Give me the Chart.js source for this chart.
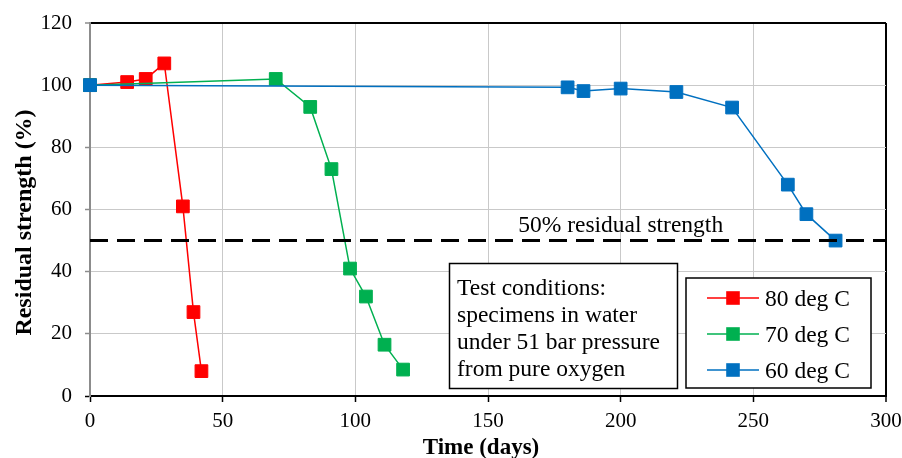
<!DOCTYPE html>
<html>
<head>
<meta charset="utf-8">
<script src="https://cdn.jsdelivr.net/npm/chart.js@4.4.1/dist/chart.umd.min.js"></script>
<style>
  html, body { margin: 0; padding: 0; background: #fff; }
  #chart { display: block; }
</style>
</head>
<body>
<canvas id="chart" width="902" height="458"></canvas>
<script>
const seriesLabels = ['80 deg C', '70 deg C', '60 deg C'];
const seriesColors = ['#ff0000', '#00b050', '#0070c0'];

const days80 = [0, 14, 21, 28, 35, 39, 42];
const strength80 = [100, 101, 102, 107, 61, 27, 8];

const days70 = [0, 70, 83, 91, 98, 104, 111, 118];
const strength70 = [100, 102, 93, 73, 41, 32, 16.5, 8.5];

const days60 = [0, 180, 186, 200, 221, 242, 263, 270, 281];
const strength60 = [100, 99.3, 98.1, 98.9, 97.8, 92.8, 68, 58.5, 50];

const thresholdDays = [0, 300];
const thresholdValue = 50;
const thresholdLabel = '50% residual strength';

const noteLines = ['Test conditions:', 'specimens in water', 'under 51 bar pressure', 'from pure oxygen'];

const xTitle = 'Time (days)';
const yTitle = 'Residual strength (%)';

const FONT = '"Liberation Serif", "Times New Roman", serif';
const GRID = '#c9c9c9';

Chart.defaults.font.family = FONT;

function toPoints(xs, ys) {
  return xs.map((x, i) => ({ x, y: ys[i] }));
}

function seriesDataset(i, xs, ys, order) {
  return {
    label: seriesLabels[i],
    data: toPoints(xs, ys),
    borderColor: seriesColors[i],
    backgroundColor: seriesColors[i],
    borderWidth: 1.5,
    pointStyle: 'rect',
    pointRadius: 9,
    pointBorderWidth: 1,
    pointBorderColor: seriesColors[i],
    pointBackgroundColor: seriesColors[i],
    tension: 0,
    clip: false,
    order,
  };
}

const datasets = [
  seriesDataset(0, days80, strength80, 3),
  seriesDataset(1, days70, strength70, 2),
  seriesDataset(2, days60, strength60, 1),
  {
    label: thresholdLabel,
    data: thresholdDays.map((x) => ({ x, y: thresholdValue })),
    borderColor: '#000',
    borderWidth: 3,
    borderDash: [18, 9],
    pointRadius: 0,
    order: 0,
  },
];

const annotations = {
  id: 'annotations',
  afterDraw(chart) {
    const { ctx, scales: { x, y } } = chart;
    ctx.save();
    ctx.fillStyle = '#000';

    // threshold label
    ctx.font = `23.5px ${FONT}`;
    ctx.textAlign = 'center';
    ctx.textBaseline = 'alphabetic';
    ctx.fillText(thresholdLabel, x.getPixelForValue(200), y.getPixelForValue(thresholdValue) - 9);

    // test conditions box
    ctx.fillStyle = '#fff';
    ctx.fillRect(449.5, 263.5, 228, 125);
    ctx.strokeStyle = '#000';
    ctx.lineWidth = 1.5;
    ctx.strokeRect(449.5, 263.5, 228, 125);
    ctx.fillStyle = '#000';
    ctx.textAlign = 'left';
    noteLines.forEach((line, i) => {
      ctx.fillText(line, 457, 295 + i * 27);
    });

    // legend box
    ctx.fillStyle = '#fff';
    ctx.fillRect(686, 278, 185, 110);
    ctx.strokeRect(686, 278, 185, 110);
    chart.data.datasets.slice(0, 3).forEach((ds, i) => {
      const cy = 298 + i * 36;
      ctx.strokeStyle = ds.borderColor;
      ctx.lineWidth = 1.5;
      ctx.beginPath();
      ctx.moveTo(707, cy);
      ctx.lineTo(759, cy);
      ctx.stroke();
      ctx.fillStyle = ds.borderColor;
      ctx.fillRect(733 - 6.8, cy - 6.8, 13.6, 13.6);
      ctx.fillStyle = '#000';
      ctx.fillText(ds.label, 765, cy + 7.5);
    });

    // axis titles
    ctx.font = `bold 23px ${FONT}`;
    ctx.textAlign = 'center';
    ctx.fillText(xTitle, 481, 453.5);
    ctx.font = `bold 24px ${FONT}`;
    ctx.translate(30.5, 222.5);
    ctx.rotate(-Math.PI / 2);
    ctx.fillText(yTitle, 0, 0);
    ctx.restore();
  },
};

new Chart(document.getElementById('chart'), {
  type: 'line',
  data: { datasets },
  options: {
    responsive: false,
    animation: false,
    devicePixelRatio: 1,
    layout: { padding: { top: 23, right: 16, left: 0, bottom: 0 } },
    plugins: { legend: { display: false }, tooltip: { enabled: false } },
    scales: {
      x: {
        type: 'linear',
        min: 0,
        max: 300,
        ticks: { stepSize: 50, color: '#000', font: { size: 21 }, padding: 7 },
        grid: {
          color: (c) => (c.tick.value === 300 ? '#000' : c.tick.value === 0 ? 'rgba(0,0,0,0)' : GRID),
          lineWidth: (c) => (c.tick.value === 300 ? 2 : 1),
          tickColor: '#000',
          tickWidth: 1.5,
          tickLength: 6,
        },
        border: { color: '#000', width: 2 },
        afterFit(scale) {
          scale.height = 62;
          scale.paddingLeft = 0;
          scale.paddingRight = 0;
        },
      },
      y: {
        min: 0,
        max: 120,
        ticks: { stepSize: 20, color: '#000', font: { size: 21 }, padding: 13 },
        grid: {
          color: (c) => (c.tick.value === 120 ? '#000' : c.tick.value === 0 ? 'rgba(0,0,0,0)' : GRID),
          lineWidth: (c) => (c.tick.value === 120 ? 2 : 1),
          tickColor: (c) => (c.tick.value === 0 ? '#000' : '#8c8c8c'),
          tickWidth: 1.5,
          tickLength: 5,
        },
        border: { color: '#8c8c8c', width: 2 },
        afterFit(scale) {
          scale.width = 90;
          scale.paddingTop = 0;
          scale.paddingBottom = 0;
        },
      },
    },
  },
  plugins: [annotations],
});
</script>
</body>
</html>
